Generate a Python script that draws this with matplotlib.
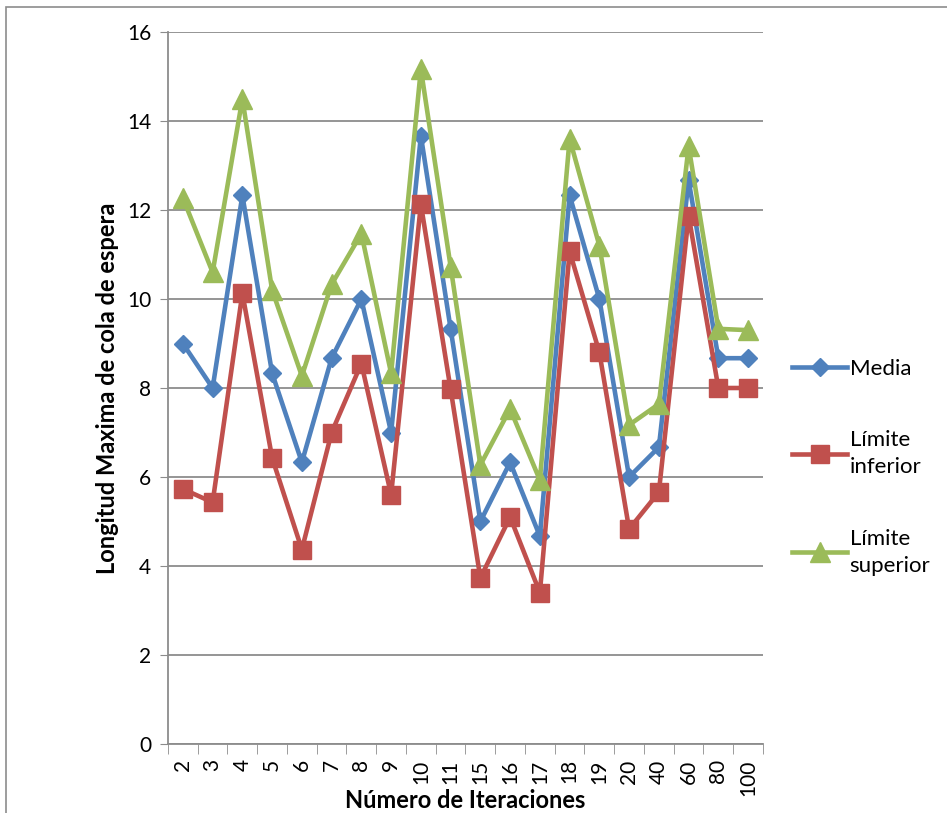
import matplotlib.pyplot as plt
from matplotlib.patches import Rectangle
import numpy as np

iteraciones = ["2", "3", "4", "5", "6", "7", "8", "9", "10", "11",
               "15", "16", "17", "18", "19", "20", "40", "60", "80", "100"]
media = [9.0, 8.0, 12.33, 8.33, 6.33, 8.67, 10.0, 7.0, 13.67, 9.33,
         5.0, 6.33, 4.67, 12.33, 10.0, 6.0, 6.67, 12.67, 8.67, 8.67]
lim_inf = [5.73, 5.43, 10.13, 6.43, 4.37, 7.0, 8.55, 5.6, 12.13, 7.97,
           3.73, 5.1, 3.4, 11.07, 8.8, 4.83, 5.66, 11.87, 8.0, 8.0]
lim_sup = [12.27, 10.6, 14.5, 10.2, 8.27, 10.33, 11.47, 8.33, 15.17, 10.73,
           6.27, 7.53, 5.93, 13.6, 11.2, 7.17, 7.64, 13.43, 9.33, 9.3]

plt.rcParams["font.family"] = ["Lato", "DejaVu Sans"]

fig = plt.figure(figsize=(9.47, 8.13), dpi=100)
ax = fig.add_axes([0.1774, 0.0849, 0.6283, 0.8757])

x = np.arange(len(iteraciones))
ax.plot(x, media, color="#4F81BD", lw=3.3, marker="D", ms=9, label="Media")
ax.plot(x, lim_inf, color="#C0504D", lw=3.3, marker="s", ms=13, label="Límite\ninferior")
ax.plot(x, lim_sup, color="#9BBB59", lw=3.3, marker="^", ms=14, label="Límite\nsuperior")

ax.set_xlim(-0.5, len(iteraciones) - 0.5)
ax.set_ylim(0, 16)
ax.set_yticks(range(0, 17, 2))
ax.yaxis.grid(True, color="#8C8C8C", lw=1.3)
ax.set_axisbelow(True)
ax.tick_params(axis="y", labelsize=15, length=6, color="#8C8C8C", pad=6)

ax.set_xticks(x)
ax.set_xticklabels(iteraciones, rotation=90, fontsize=15)
ax.set_xticks(np.arange(-0.5, len(iteraciones)), minor=True)
ax.tick_params(axis="x", which="major", length=0, pad=11)
ax.tick_params(axis="x", which="minor", length=7, color="#8C8C8C")

for s in ["top", "right"]:
    ax.spines[s].set_visible(False)
for s in ["left", "bottom"]:
    ax.spines[s].set_color("#8C8C8C")
    ax.spines[s].set_linewidth(1.3)

ax.set_ylabel("Longitud Maxima de cola de espera", fontsize=17, fontweight="bold", labelpad=6)
ax.set_xlabel("Número de Iteraciones", fontsize=17, fontweight="bold", labelpad=-5)

leg = fig.legend(loc="center left", bbox_to_anchor=(0.815, 0.425), frameon=False,
                 fontsize=16, handlelength=2.5, handletextpad=0.1, labelspacing=2.3)
for t in leg.get_texts():
    t.set_linespacing(1.45)

fig.patches.append(Rectangle((0.0065, -0.1), 1.2, 1.091, transform=fig.transFigure,
                             fill=False, edgecolor="#8C8C8C", lw=1.2))

fig.savefig("out.png", dpi=100)
